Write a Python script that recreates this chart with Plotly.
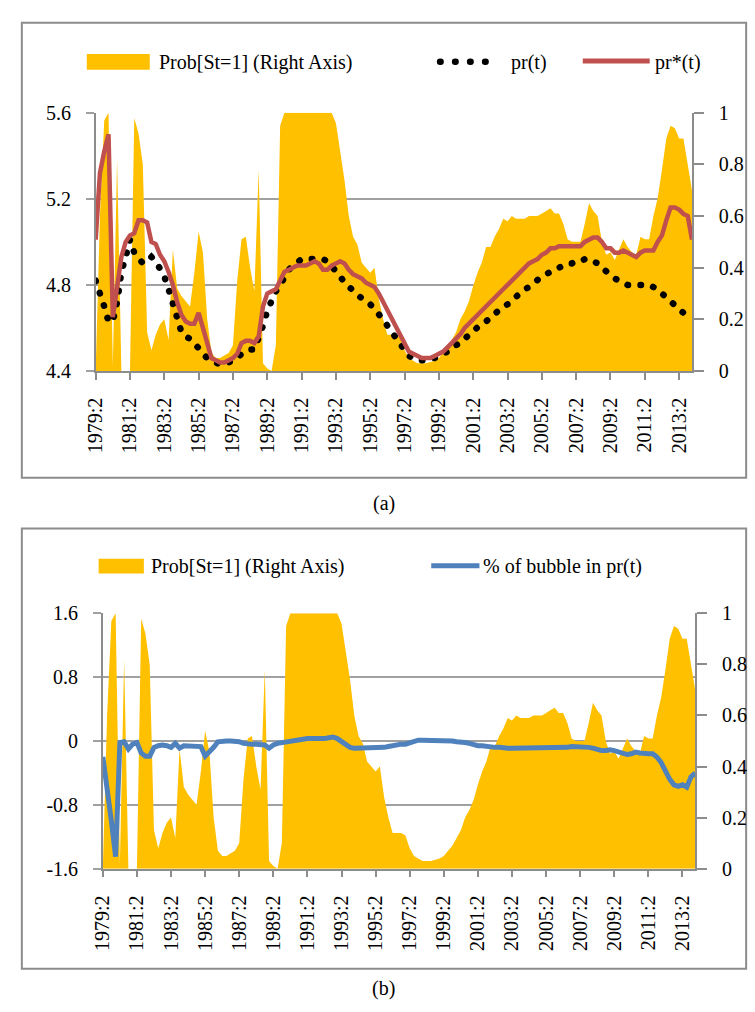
import plotly.graph_objects as go

# ---------------- data ----------------
quarters = [f"{y}:{q}" for y in range(1979, 2015) for q in range(1, 5)][1:141]  # 1979:2 .. 2014:1

tick_labels = ["1979:2", "1981:2", "1983:2", "1985:2", "1987:2", "1989:2", "1991:2",
               "1993:2", "1995:2", "1997:2", "1999:2", "2001:2", "2003:2", "2005:2",
               "2007:2", "2009:2", "2011:2", "2013:2"]

prob = [0.00, 0.60, 0.97, 1.00, 0.02, 0.82, 0.00, 0.00, 0.00, 0.98,
        0.92, 0.80, 0.15, 0.08, 0.14, 0.18, 0.20, 0.12, 0.47, 0.32,
        0.29, 0.27, 0.25, 0.38, 0.54, 0.46, 0.20, 0.07, 0.05, 0.05,
        0.06, 0.07, 0.10, 0.35, 0.51, 0.52, 0.40, 0.31, 0.78, 0.03,
        0.01, 0.00, 0.10, 0.95, 1.00, 1.00, 1.00, 1.00, 1.00, 1.00,
        1.00, 1.00, 1.00, 1.00, 1.00, 1.00, 0.96, 0.85, 0.74, 0.60,
        0.52, 0.49, 0.42, 0.40, 0.38, 0.40, 0.28, 0.20, 0.14, 0.14,
        0.14, 0.13, 0.08, 0.05, 0.04, 0.03, 0.03, 0.03, 0.035, 0.04,
        0.05, 0.07, 0.09, 0.12, 0.15, 0.20, 0.23, 0.27, 0.33, 0.38,
        0.42, 0.48, 0.48, 0.52, 0.55, 0.59, 0.58, 0.60, 0.59, 0.59,
        0.59, 0.60, 0.60, 0.60, 0.61, 0.62, 0.63, 0.61, 0.61, 0.57,
        0.51, 0.50, 0.50, 0.50, 0.57, 0.65, 0.62, 0.60, 0.50, 0.45,
        0.46, 0.43, 0.47, 0.51, 0.48, 0.46, 0.45, 0.52, 0.51, 0.51,
        0.60, 0.67, 0.78, 0.90, 0.95, 0.94, 0.90, 0.90, 0.80, 0.70]

pr = [4.82, 4.77, 4.70, 4.63, 4.63, 4.72, 4.86, 4.93, 5.01, 4.95,
      4.93, 4.90, 4.91, 4.93, 4.91, 4.88, 4.84, 4.78, 4.72, 4.64,
      4.58, 4.56, 4.55, 4.53, 4.50, 4.48, 4.46, 4.45, 4.44, 4.43,
      4.43, 4.44, 4.45, 4.46, 4.48, 4.49, 4.50, 4.50, 4.55, 4.61,
      4.68, 4.73, 4.77, 4.80, 4.84, 4.87, 4.89, 4.91, 4.92, 4.92,
      4.92, 4.92, 4.92, 4.92, 4.91, 4.89, 4.87, 4.84, 4.81, 4.79,
      4.77, 4.75, 4.73, 4.72, 4.71, 4.69, 4.67, 4.64, 4.61, 4.58,
      4.56, 4.52, 4.49, 4.47, 4.46, 4.45, 4.45, 4.45, 4.46, 4.46,
      4.47, 4.48, 4.49, 4.50, 4.52, 4.53, 4.55, 4.57, 4.58, 4.60,
      4.62, 4.63, 4.65, 4.66, 4.68, 4.70, 4.71, 4.73, 4.75, 4.76,
      4.78, 4.79, 4.81, 4.83, 4.84, 4.85, 4.86, 4.87, 4.88, 4.89,
      4.90, 4.90, 4.91, 4.91, 4.92, 4.92, 4.91, 4.90, 4.88, 4.86,
      4.85, 4.83, 4.82, 4.81, 4.80, 4.80, 4.80, 4.80, 4.80, 4.80,
      4.79, 4.78, 4.76, 4.74, 4.72, 4.70, 4.68, 4.67, 4.66, 4.65]

pr_star = [5.01, 5.32, 5.42, 5.50, 4.65, 4.78, 4.93, 5.00, 5.03, 5.04,
           5.10, 5.10, 5.09, 5.00, 4.99, 4.94, 4.91, 4.86, 4.80, 4.72,
           4.66, 4.63, 4.62, 4.62, 4.67, 4.60, 4.52, 4.46, 4.45, 4.44,
           4.44, 4.45, 4.46, 4.48, 4.53, 4.54, 4.54, 4.53, 4.56, 4.70,
           4.76, 4.77, 4.78, 4.82, 4.86, 4.87, 4.88, 4.89, 4.89, 4.89,
           4.90, 4.91, 4.90, 4.87, 4.87, 4.89, 4.90, 4.91, 4.90, 4.87,
           4.85, 4.84, 4.83, 4.81, 4.80, 4.79, 4.76, 4.72, 4.68, 4.65,
           4.61, 4.57, 4.53, 4.49, 4.48, 4.47, 4.46, 4.46, 4.46, 4.47,
           4.48, 4.49, 4.51, 4.53, 4.55, 4.57, 4.60, 4.62, 4.64, 4.66,
           4.68, 4.70, 4.72, 4.74, 4.76, 4.78, 4.80, 4.82, 4.84, 4.86,
           4.88, 4.90, 4.91, 4.92, 4.94, 4.95, 4.97, 4.97, 4.98, 4.98,
           4.98, 4.98, 4.98, 4.98, 5.00, 5.01, 5.02, 5.02, 5.00, 4.97,
           4.97, 4.95, 4.95, 4.96, 4.95, 4.94, 4.93, 4.95, 4.96, 4.96,
           4.96, 5.00, 5.03, 5.10, 5.16, 5.16, 5.15, 5.13, 5.12, 5.01]

bubble = [-0.20, -0.55, -1.00, -1.45, -0.02, -0.01, -0.10, -0.04, -0.02, -0.15,
          -0.19, -0.19, -0.08, -0.06, -0.05, -0.06, -0.08, -0.03, -0.09, -0.06,
          -0.06, -0.06, -0.06, -0.07, -0.19, -0.14, -0.08, -0.01, 0.00, 0.00,
          0.00, 0.00, -0.01, -0.03, -0.04, -0.04, -0.04, -0.04, -0.05, -0.09,
          -0.05, -0.03, -0.02, -0.02, 0.00, 0.01, 0.02, 0.03, 0.03, 0.03,
          0.03, 0.02, 0.03, 0.04, 0.05, 0.03, -0.01, -0.05, -0.08, -0.09,
          -0.09, -0.09, -0.09, -0.08, -0.08, -0.09, -0.08, -0.07, -0.06, -0.04,
          -0.04, -0.04, -0.02, 0.00, 0.01, 0.01, 0.01, 0.01, 0.01, 0.01,
          0.00, 0.00, 0.00, -0.01, -0.01, -0.02, -0.03, -0.05, -0.06, -0.06,
          -0.07, -0.07, -0.08, -0.08, -0.09, -0.09, -0.09, -0.09, -0.09, -0.09,
          -0.09, -0.09, -0.09, -0.09, -0.09, -0.09, -0.09, -0.09, -0.09, -0.08,
          -0.07, -0.07, -0.07, -0.07, -0.08, -0.09, -0.11, -0.12, -0.12, -0.11,
          -0.12, -0.14, -0.15, -0.17, -0.16, -0.14, -0.15, -0.16, -0.16, -0.16,
          -0.20, -0.27, -0.38, -0.48, -0.55, -0.57, -0.55, -0.58, -0.45, -0.40]

left_a_ticks = [4.4, 4.8, 5.2, 5.6]
left_a_text = ["4.4", "4.8", "5.2", "5.6"]
right_ticks = [0, 0.2, 0.4, 0.6, 0.8, 1]
right_text = ["0", "0.2", "0.4", "0.6", "0.8", "1"]
left_b_ticks = [-1.6, -0.8, 0, 0.8, 1.6]
left_b_text = ["-1.6", "-0.8", "0", "0.8", "1.6"]

# ---------------- styling ----------------
W, H = 755, 1012
FONT = "Liberation Serif, Times New Roman, DejaVu Serif, serif"
FS = 20
YELLOW = "#FFC000"
RED = "#C0504D"
BLUE = "#4F81BD"
GRID = "#A0A0A0"
AXIS = "#8C8C8C"
DOTS = "0.5px,12.5px"


def PX(x):
    return x / W


def PY(y):
    return 1 - y / H


fig = go.Figure()
fig.add_trace(go.Scatter(x=quarters, y=prob, xaxis="x", yaxis="y", mode="none",
                         fill="tozeroy", fillcolor=YELLOW, showlegend=False,
                         name="Prob[St=1] (Right Axis)"))
fig.add_trace(go.Scatter(x=quarters, y=pr, xaxis="x", yaxis="y2", mode="lines",
                         line=dict(color="black", width=6.5, dash=DOTS),
                         showlegend=False, name="pr(t)"))
fig.add_trace(go.Scatter(x=quarters, y=pr_star, xaxis="x", yaxis="y2", mode="lines",
                         line=dict(color=RED, width=4.5), showlegend=False, name="pr*(t)"))
fig.add_trace(go.Scatter(x=quarters, y=prob, xaxis="x2", yaxis="y3", mode="none",
                         fill="tozeroy", fillcolor=YELLOW, showlegend=False,
                         name="Prob[St=1] (Right Axis)"))
fig.add_trace(go.Scatter(x=quarters, y=bubble, xaxis="x2", yaxis="y4", mode="lines",
                         line=dict(color=BLUE, width=5), showlegend=False,
                         name="% of bubble in pr(t)"))

tickfont = dict(family=FONT, size=FS, color="black")

xcommon = dict(type="category", categoryorder="array", categoryarray=quarters,
               range=[0, 139], tickmode="array", tickvals=tick_labels, ticktext=tick_labels,
               tickangle=-90, ticks="outside", ticklen=7, tickwidth=1.5, tickcolor=AXIS,
               showline=True, linecolor=AXIS, linewidth=1.5, showgrid=False,
               zeroline=False, tickfont=tickfont, ticklabelstandoff=10)

rcommon = dict(side="right", range=[0, 1], tickmode="array", tickvals=right_ticks,
               ticktext=right_text, ticks="outside", ticklen=10, tickwidth=1.5,
               tickcolor=AXIS, showline=True, linecolor=AXIS, linewidth=1.5,
               showgrid=False, zeroline=False, tickfont=tickfont, ticklabelstandoff=11)

lcommon = dict(side="left", tickmode="array", ticks="outside", ticklen=8, tickwidth=1.5,
               tickcolor=GRID, showline=True, linecolor=AXIS, linewidth=1.5,
               showgrid=True, gridcolor=GRID, gridwidth=1.5, zeroline=False,
               tickfont=tickfont, ticklabelstandoff=11)

fig.update_layout(
    width=W, height=H, margin=dict(l=0, r=0, t=0, b=0),
    paper_bgcolor="white", plot_bgcolor="rgba(0,0,0,0)",
    font=dict(family=FONT, size=FS, color="black"),
    showlegend=False,
    xaxis=dict(domain=[PX(85), PX(691)], anchor="y", **xcommon),
    yaxis=dict(domain=[PY(368), PY(104)], anchor="x", **rcommon),
    yaxis2=dict(overlaying="y", anchor="x", range=[4.4, 5.6],
                tickvals=left_a_ticks, ticktext=left_a_text, **lcommon),
    xaxis2=dict(domain=[PX(92.3), PX(694.3)], anchor="y3", **xcommon),
    yaxis3=dict(domain=[PY(876.7), PY(615.7)], anchor="x2", **rcommon),
    yaxis4=dict(overlaying="y3", anchor="x2", range=[-1.6, 1.6],
                tickvals=left_b_ticks, ticktext=left_b_text, **lcommon),
)

shapes = []
annotations = []
# panel borders
for (y0, y1) in [(12, 477), (529, 979)]:
    shapes.append(dict(type="rect", xref="paper", yref="paper",
                       x0=PX(10), x1=PX(746), y0=PY(y1), y1=PY(y0),
                       line=dict(color=AXIS, width=2), fillcolor="rgba(0,0,0,0)", layer="below"))

# legend (a)
shapes.append(dict(type="rect", xref="paper", yref="paper", x0=PX(76), x1=PX(140),
                   y0=PY(60), y1=PY(44), line=dict(width=0), fillcolor=YELLOW))
shapes.append(dict(type="line", xref="paper", yref="paper", x0=PX(435), x1=PX(495),
                   y0=PY(52), y1=PY(52), line=dict(color="black", width=6.5, dash="0.5px,14.5px")))
shapes.append(dict(type="line", xref="paper", yref="paper", x0=PX(580), x1=PX(648),
                   y0=PY(51), y1=PY(51), line=dict(color=RED, width=5)))
for txt, x in [("Prob[St=1] (Right Axis)", 147), ("pr(t)", 505), ("pr*(t)", 651)]:
    annotations.append(dict(text=txt, x=PX(x), y=PY(53), xref="paper", yref="paper",
                            xanchor="left", yanchor="middle", showarrow=False,
                            font=dict(family=FONT, size=FS, color="black")))

# legend (b)
shapes.append(dict(type="rect", xref="paper", yref="paper", x0=PX(88), x1=PX(134),
                   y0=PY(575), y1=PY(560), line=dict(width=0), fillcolor=YELLOW))
shapes.append(dict(type="line", xref="paper", yref="paper", x0=PX(426), x1=PX(475),
                   y0=PY(567), y1=PY(567), line=dict(color=BLUE, width=5)))
for txt, x in [("Prob[St=1] (Right Axis)", 139), ("% of bubble in pr(t)", 477)]:
    annotations.append(dict(text=txt, x=PX(x), y=PY(568), xref="paper", yref="paper",
                            xanchor="left", yanchor="middle", showarrow=False,
                            font=dict(family=FONT, size=FS, color="black")))

# captions
for txt, y in [("(a)", 503), ("(b)", 999)]:
    annotations.append(dict(text=txt, x=PX(378), y=PY(y), xref="paper", yref="paper",
                            xanchor="center", yanchor="middle", showarrow=False,
                            font=dict(family=FONT, size=FS, color="black")))

fig.update_layout(shapes=shapes, annotations=annotations)

# page without body margin; round caps turn the short dashes into round dots
post = """
document.body.style.margin = '0px';
document.body.style.overflow = 'hidden';
document.querySelectorAll('path').forEach(function(p){
  var d = p.style.strokeDasharray || '';
  if (d.indexOf('0.5px') === 0) { p.style.strokeLinecap = 'round'; }
});
"""

fig.write_html("out.html", post_script=post, config={"displayModeBar": False})
